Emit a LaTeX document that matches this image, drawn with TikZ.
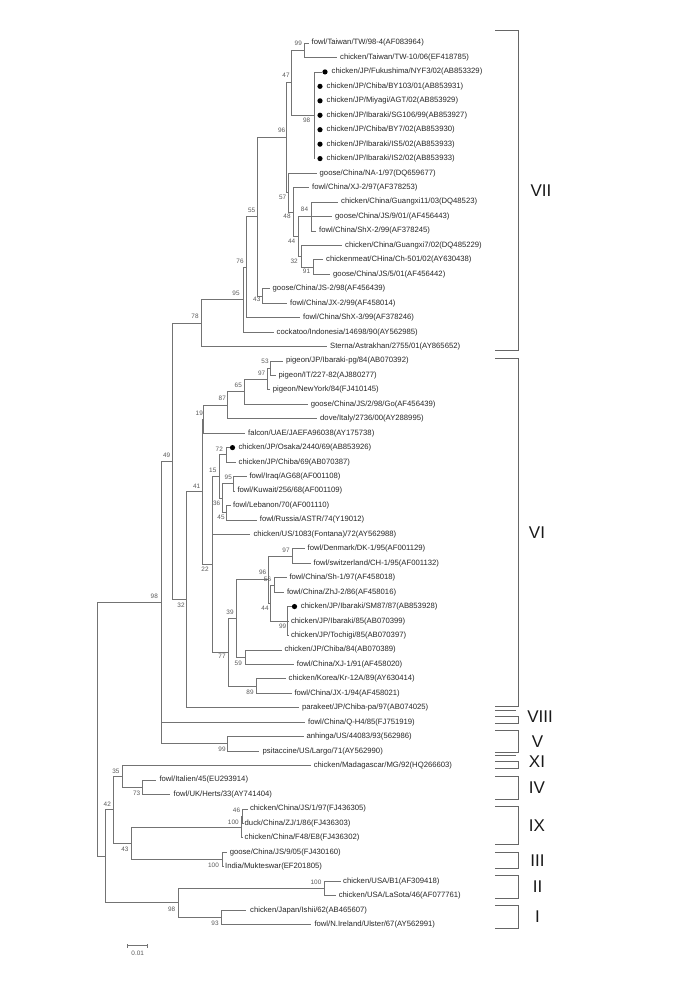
\documentclass[tikz,border=0pt]{standalone}
\usepackage{fontspec}
\setmainfont{Liberation Sans}
\newcommand\leaffont{\fontsize{7.7}{8}\selectfont}
\newcommand\bootfont{\fontsize{6.4}{7}\selectfont}
\newcommand\cladefont{\fontsize{17}{18}\selectfont}
\newcommand\scalefont{\fontsize{6.4}{7}\selectfont}
\tikzset{
  tree/.style={draw=black!55, line width=0.7pt},
  bracketline/.style={draw=black!60, line width=0.8pt},
  leaf/.style={anchor=west, inner sep=0pt, font=\leaffont, text=black!85},
  boot/.style={inner sep=0pt, font=\bootfont, text=black!65},
  clade/.style={inner sep=0pt, font=\cladefont, text=black!90},
  blackdot/.style={circle, fill=black, inner sep=0pt, minimum size=5.2pt},
}
\begin{document}
\begin{tikzpicture}[x=1pt,y=-1pt]
\useasboundingbox (0,0) rectangle (685,989);
% ---------- leaf tips ----------
\coordinate (L1) at (309,43.0);
\coordinate (L2) at (337,57.45);
\coordinate (L3) at (318,71.9);
\coordinate (L4) at (314.5,86.35);
\coordinate (L5) at (314.5,100.8);
\coordinate (L6) at (314.5,115.25);
\coordinate (L7) at (314.5,129.7);
\coordinate (L8) at (314.5,144.15);
\coordinate (L9) at (314.5,158.6);
\coordinate (L10) at (316.7,173.05);
\coordinate (L11) at (309.3,187.5);
\coordinate (L12) at (338,201.95);
\coordinate (L13) at (332,216.4);
\coordinate (L14) at (316,230.85);
\coordinate (L15) at (342,245.3);
\coordinate (L16) at (323,259.75);
\coordinate (L17) at (330,274.2);
\coordinate (L18) at (270,288.65);
\coordinate (L19) at (287,303.1);
\coordinate (L20) at (300,317.55);
\coordinate (L21) at (274,332.0);
\coordinate (L22) at (327,346.45);
\coordinate (L23) at (283.3,360.9);
\coordinate (L24) at (276,375.35);
\coordinate (L25) at (270,389.8);
\coordinate (L26) at (308,404.25);
\coordinate (L27) at (317,418.7);
\coordinate (L28) at (245,433.15);
\coordinate (L29) at (228.5,447.6);
\coordinate (L30) at (236,462.05);
\coordinate (L31) at (246.7,476.5);
\coordinate (L32) at (234.5,490.95);
\coordinate (L33) at (230.7,505.4);
\coordinate (L34) at (256.7,519.85);
\coordinate (L35) at (250,534.3);
\coordinate (L36) at (305,548.75);
\coordinate (L37) at (311,563.2);
\coordinate (L38) at (286.7,577.65);
\coordinate (L39) at (284.3,592.1);
\coordinate (L40) at (289.5,606.55);
\coordinate (L41) at (288.5,621.0);
\coordinate (L42) at (288.5,635.45);
\coordinate (L43) at (281.7,649.9);
\coordinate (L44) at (294,664.35);
\coordinate (L45) at (286,678.8);
\coordinate (L46) at (291.7,693.25);
\coordinate (L47) at (299.3,707.7);
\coordinate (L48) at (305.4,722.15);
\coordinate (L49) at (303.6,736.6);
\coordinate (L50) at (259,751.05);
\coordinate (L51) at (310.7,765.5);
\coordinate (L52) at (156,779.95);
\coordinate (L53) at (170,794.4);
\coordinate (L54) at (247.5,808.85);
\coordinate (L55) at (243,823.3);
\coordinate (L56) at (243,837.75);
\coordinate (L57) at (226.8,852.2);
\coordinate (L58) at (223.5,866.65);
\coordinate (L59) at (341,881.1);
\coordinate (L60) at (335.7,895.55);
\coordinate (L61) at (246.4,910.0);
\coordinate (L62) at (311.4,924.45);
% ---------- internal nodes ----------
\coordinate (n99t) at (304,50.2);
\coordinate (n98j) at (314.5,115.25);
\coordinate (n47) at (291,82.7);
\coordinate (n91) at (313.3,267.0);
\coordinate (n32v) at (301,256.15);
\coordinate (n84) at (311,216.4);
\coordinate (n44) at (298.3,236.3);
\coordinate (n48) at (293.3,211.9);
\coordinate (n57) at (288.3,192.5);
\coordinate (n96) at (286.5,137.6);
\coordinate (n43v) at (262.7,295.9);
\coordinate (n55) at (257.3,216.75);
\coordinate (n76) at (246.7,267.15);
\coordinate (n95) at (243.3,299.6);
\coordinate (n78) at (201,323.0);
\coordinate (n53) at (270.7,368.1);
\coordinate (n97p) at (267.3,378.95);
\coordinate (n65) at (244.3,391.6);
\coordinate (n87) at (227.7,405.15);
\coordinate (n19) at (203.5,419.15);
\coordinate (n72) at (226.7,454.8);
\coordinate (n95b) at (233.3,483.7);
\coordinate (n45) at (226,512.6);
\coordinate (n36) at (222.7,498.15);
\coordinate (n15) at (219,476.5);
\coordinate (n97d) at (292.7,555.95);
\coordinate (n56) at (274,584.9);
\coordinate (n99b) at (287.3,621.0);
\coordinate (n44b) at (270.5,602.95);
\coordinate (n96c) at (268.3,579.45);
\coordinate (n59) at (245,657.1);
\coordinate (n39) at (236,618.3);
\coordinate (n89) at (256,686.0);
\coordinate (n77) at (228.3,652.15);
\coordinate (n22) at (212.3,564.3);
\coordinate (n41) at (202.7,491.7);
\coordinate (n32) at (186.7,599.7);
\coordinate (n49) at (172.3,461.35);
\coordinate (n99v) at (227.8,743.8);
\coordinate (n98top) at (161,602.6);
\coordinate (n73) at (142.5,787.2);
\coordinate (n35) at (122.7,776.35);
\coordinate (n46) at (242.5,816.1);
\coordinate (n100a) at (241.3,826.9);
\coordinate (n100b) at (222.3,859.4);
\coordinate (n43) at (131,843.15);
\coordinate (n42) at (113.3,809.75);
\coordinate (n100c) at (324.3,888.3);
\coordinate (n93) at (221.6,917.2);
\coordinate (n98bot) at (178.3,902.75);
\coordinate (n105) at (105,856.25);
\coordinate (root) at (97.3,729.4);
% ---------- branches ----------
\foreach \p/\c in {n99t/L1,n99t/L2,n98j/L3,n98j/L4,n98j/L5,n98j/L6,n98j/L7,n98j/L8,n98j/L9,
  n47/n99t,n47/n98j,n91/L16,n91/L17,n32v/L15,n32v/n91,n84/L12,n84/L13,n84/L14,
  n44/n84,n44/n32v,n48/L11,n48/n44,n57/L10,n57/n48,n96/n47,n96/n57,n43v/L18,n43v/L19,
  n55/n96,n55/n43v,n76/n55,n76/L20,n95/n76,n95/L21,n78/n95,n78/L22,
  n53/L23,n53/L24,n97p/n53,n97p/L25,n65/n97p,n65/L26,n87/n65,n87/L27,n19/n87,n19/L28,
  n72/L29,n72/L30,n95b/L31,n95b/L32,n45/L33,n45/L34,n36/n95b,n36/n45,n15/n72,n15/n36,
  n97d/L36,n97d/L37,n56/L38,n56/L39,n99b/L40,n99b/L41,n99b/L42,n44b/n56,n44b/n99b,
  n96c/n97d,n96c/n44b,n59/L43,n59/L44,n39/n96c,n39/n59,n89/L45,n89/L46,n77/n39,n77/n89,
  n22/n15,n22/L35,n22/n77,n41/n19,n41/n22,n32/n41,n32/L47,n49/n78,n49/n32,
  n99v/L49,n99v/L50,n98top/n49,n98top/L48,n98top/n99v,
  n73/L52,n73/L53,n35/L51,n35/n73,n46/L54,n46/L55,n100a/n46,n100a/L56,
  n100b/L57,n100b/L58,n43/n100a,n43/n100b,n42/n35,n42/n43,
  n100c/L59,n100c/L60,n93/L61,n93/L62,n98bot/n100c,n98bot/n93,
  n105/n42,n105/n98bot,root/n98top,root/n105}
  {\draw[tree] (\p) |- (\c);}
% ---------- dots ----------
\node[blackdot] (d3) at (325,71.9) {};
\node[blackdot] (d4) at (320,86.35) {};
\node[blackdot] (d5) at (320,100.8) {};
\node[blackdot] (d6) at (320,115.25) {};
\node[blackdot] (d7) at (320,129.7) {};
\node[blackdot] (d8) at (320,144.15) {};
\node[blackdot] (d9) at (320,158.6) {};
\node[blackdot] (d29) at (232.5,447.6) {};
\node[blackdot] (d40) at (294.5,606.55) {};
\draw[tree] (L3) -- (d3.west);
\draw[tree] (L29) -- (d29.west);
\draw[tree] (L40) -- (d40.west);
% ---------- leaf labels ----------
\node[leaf] (t1) at (311.5,43.0) {fowl/Taiwan/TW/98-4(AF083964)};
\node[leaf] (t2) at (340,57.45) {chicken/Taiwan/TW-10/06(EF418785)};
\node[leaf] (t3) at (331.5,71.9) {chicken/JP/Fukushima/NYF3/02(AB853329)};
\node[leaf] (t4) at (326.5,86.35) {chicken/JP/Chiba/BY103/01(AB853931)};
\node[leaf] (t5) at (326.5,100.8) {chicken/JP/Miyagi/AGT/02(AB853929)};
\node[leaf] (t6) at (326.5,115.25) {chicken/JP/Ibaraki/SG106/99(AB853927)};
\node[leaf] (t7) at (326.5,129.7) {chicken/JP/Chiba/BY7/02(AB853930)};
\node[leaf] (t8) at (326.5,144.15) {chicken/JP/Ibaraki/IS5/02(AB853933)};
\node[leaf] (t9) at (326.5,158.6) {chicken/JP/Ibaraki/IS2/02(AB853933)};
\node[leaf] (t10) at (319.5,173.05) {goose/China/NA-1/97(DQ659677)};
\node[leaf] (t11) at (312,187.5) {fowl/China/XJ-2/97(AF378253)};
\node[leaf] (t12) at (341,201.95) {chicken/China/Guangxi11/03(DQ48523)};
\node[leaf] (t13) at (335,216.4) {goose/China/JS/9/01/(AF456443)};
\node[leaf] (t14) at (319,230.85) {fowl/China/ShX-2/99(AF378245)};
\node[leaf] (t15) at (345,245.3) {chicken/China/Guangxi7/02(DQ485229)};
\node[leaf] (t16) at (326,259.75) {chickenmeat/CHina/Ch-501/02(AY630438)};
\node[leaf] (t17) at (333,274.2) {goose/China/JS/5/01(AF456442)};
\node[leaf] (t18) at (272.5,288.65) {goose/China/JS-2/98(AF456439)};
\node[leaf] (t19) at (290,303.1) {fowl/China/JX-2/99(AF458014)};
\node[leaf] (t20) at (303,317.55) {fowl/China/ShX-3/99(AF378246)};
\node[leaf] (t21) at (276.5,332.0) {cockatoo/Indonesia/14698/90(AY562985)};
\node[leaf] (t22) at (330,346.45) {Sterna/Astrakhan/2755/01(AY865652)};
\node[leaf] (t23) at (286,360.9) {pigeon/JP/Ibaraki-pg/84(AB070392)};
\node[leaf] (t24) at (278.5,375.35) {pigeon/IT/227-82(AJ880277)};
\node[leaf] (t25) at (272.7,389.8) {pigeon/NewYork/84(FJ410145)};
\node[leaf] (t26) at (310.7,404.25) {goose/China/JS/2/98/Go(AF456439)};
\node[leaf] (t27) at (320,418.7) {dove/Italy/2736/00(AY288995)};
\node[leaf] (t28) at (248,433.15) {falcon/UAE/JAEFA96038(AY175738)};
\node[leaf] (t29) at (238.3,447.6) {chicken/JP/Osaka/2440/69(AB853926)};
\node[leaf] (t30) at (238.5,462.05) {chicken/JP/Chiba/69(AB070387)};
\node[leaf] (t31) at (249.3,476.5) {fowl/Iraq/AG68(AF001108)};
\node[leaf] (t32) at (237.3,490.95) {fowl/Kuwait/256/68(AF001109)};
\node[leaf] (t33) at (233,505.4) {fowl/Lebanon/70(AF001110)};
\node[leaf] (t34) at (259.7,519.85) {fowl/Russia/ASTR/74(Y19012)};
\node[leaf] (t35) at (253.3,534.3) {chicken/US/1083(Fontana)/72(AY562988)};
\node[leaf] (t36) at (307.5,548.75) {fowl/Denmark/DK-1/95(AF001129)};
\node[leaf] (t37) at (313.5,563.2) {fowl/switzerland/CH-1/95(AF001132)};
\node[leaf] (t38) at (289.3,577.65) {fowl/China/Sh-1/97(AF458018)};
\node[leaf] (t39) at (286.8,592.1) {fowl/China/ZhJ-2/86(AF458016)};
\node[leaf] (t40) at (300.7,606.55) {chicken/JP/Ibaraki/SM87/87(AB853928)};
\node[leaf] (t41) at (290.8,621.0) {chicken/JP/Ibaraki/85(AB070399)};
\node[leaf] (t42) at (290.8,635.45) {chicken/JP/Tochigi/85(AB070397)};
\node[leaf] (t43) at (284.3,649.9) {chicken/JP/Chiba/84(AB070389)};
\node[leaf] (t44) at (296.7,664.35) {fowl/China/XJ-1/91(AF458020)};
\node[leaf] (t45) at (288.5,678.8) {chicken/Korea/Kr-12A/89(AY630414)};
\node[leaf] (t46) at (294.3,693.25) {fowl/China/JX-1/94(AF458021)};
\node[leaf] (t47) at (301.8,707.7) {parakeet/JP/Chiba-pa/97(AB074025)};
\node[leaf] (t48) at (308,722.15) {fowl/China/Q-H4/85(FJ751919)};
\node[leaf] (t49) at (306.3,736.6) {anhinga/US/44083/93(562986)};
\node[leaf] (t50) at (262.5,751.05) {psitaccine/US/Largo/71(AY562990)};
\node[leaf] (t51) at (313.6,765.5) {chicken/Madagascar/MG/92(HQ266603)};
\node[leaf] (t52) at (159.3,779.95) {fowl/Italien/45(EU293914)};
\node[leaf] (t53) at (173.5,794.4) {fowl/UK/Herts/33(AY741404)};
\node[leaf] (t54) at (249.8,808.85) {chicken/China/JS/1/97(FJ436305)};
\node[leaf] (t55) at (244.5,823.3) {duck/China/ZJ/1/86(FJ436303)};
\node[leaf] (t56) at (244.5,837.75) {chicken/China/F48/E8(FJ436302)};
\node[leaf] (t57) at (229.6,852.2) {goose/China/JS/9/05(FJ430160)};
\node[leaf] (t58) at (225,866.65) {India/Mukteswar(EF201805)};
\node[leaf] (t59) at (343,881.1) {chicken/USA/B1(AF309418)};
\node[leaf] (t60) at (338.6,895.55) {chicken/USA/LaSota/46(AF077761)};
\node[leaf] (t61) at (250,910.0) {chicken/Japan/Ishii/62(AB465607)};
\node[leaf] (t62) at (314.3,924.45) {fowl/N.Ireland/Ulster/67(AY562991)};
% ---------- bootstrap values ----------
\node[boot] (b99t) at (298.3,43.2) {99};
\node[boot] (b98j) at (306.7,120) {98};
\node[boot] (b47) at (286,75) {47};
\node[boot] (b96) at (281.7,130) {96};
\node[boot] (b57) at (282.7,197) {57};
\node[boot] (b48) at (287,216.5) {48};
\node[boot] (b84) at (304.5,209.5) {84};
\node[boot] (b44) at (291.7,241) {44};
\node[boot] (b32v) at (294.2,261) {32};
\node[boot] (b91) at (306.5,271.5) {91};
\node[boot] (b55) at (251.7,210) {55};
\node[boot] (b43v) at (256.8,299.5) {43};
\node[boot] (b76) at (240,261) {76};
\node[boot] (b95) at (236,293) {95};
\node[boot] (b78) at (195,316) {78};
\node[boot] (b53) at (265,361) {53};
\node[boot] (b97p) at (261.7,373.3) {97};
\node[boot] (b65) at (238.3,385) {65};
\node[boot] (b87) at (222.3,398.3) {87};
\node[boot] (b19) at (199.3,413.3) {19};
\node[boot] (b72) at (219.3,448.8) {72};
\node[boot] (b15) at (212.8,470.5) {15};
\node[boot] (b95b) at (228.3,477.7) {95};
\node[boot] (b41) at (196.7,486) {41};
\node[boot] (b49) at (166.7,455) {49};
\node[boot] (b36) at (216.7,503.5) {36};
\node[boot] (b45) at (221,517.3) {45};
\node[boot] (b22) at (205,569.3) {22};
\node[boot] (b97d) at (286,550) {97};
\node[boot] (b96c) at (262.7,572.7) {96};
\node[boot] (b56) at (267.5,579.5) {56};
\node[boot] (b44b) at (265,608.3) {44};
\node[boot] (b99b) at (282.7,626.7) {99};
\node[boot] (b39) at (230,612.7) {39};
\node[boot] (b77) at (222,656.7) {77};
\node[boot] (b59) at (238.3,663.3) {59};
\node[boot] (b89) at (250,692.3) {89};
\node[boot] (b32) at (181,605) {32};
\node[boot] (b98top) at (154.3,596.7) {98};
\node[boot] (b99v) at (222,749.3) {99};
\node[boot] (b35) at (116,771) {35};
\node[boot] (b73) at (136.7,793.3) {73};
\node[boot] (b42) at (107.3,804.3) {42};
\node[boot] (b46) at (236.5,810) {46};
\node[boot] (b100a) at (233.3,822) {100};
\node[boot] (b43) at (125,849.3) {43};
\node[boot] (b100b) at (213.5,865) {100};
\node[boot] (b100c) at (316,882) {100};
\node[boot] (b98bot) at (171.7,909.3) {98};
\node[boot] (b93) at (215,923.3) {93};
% ---------- clade brackets ----------
\draw[bracketline] (495,30.5) -- (518,30.5) -- (518,350.7) -- (495,350.7);
\draw[bracketline] (495,358.3) -- (518,358.3) -- (518,706.7) -- (495,706.7);
\draw[bracketline] (495,709.5);
\draw[bracketline] (495,710) -- (516,710);
\draw[bracketline] (495,716.5) -- (518,716.5) -- (518,723.8) -- (495,723.8);
\draw[bracketline] (495,730) -- (518,730) -- (518,752.7) -- (495,752.7);
\draw[bracketline] (495,755.5) -- (516,755.5);
\draw[bracketline] (495,761.5) -- (518,761.5) -- (518,768) -- (495,768);
\draw[bracketline] (495,776) -- (518,776) -- (518,799.3) -- (495,799.3);
\draw[bracketline] (495,806.7) -- (518,806.7) -- (518,844) -- (495,844);
\draw[bracketline] (495,852.3) -- (518,852.3) -- (518,868.3) -- (495,868.3);
\draw[bracketline] (495,875.3) -- (518,875.3) -- (518,898.3) -- (495,898.3);
\draw[bracketline] (495,905.7) -- (518,905.7) -- (518,928.3) -- (495,928.3);
\node[clade] (cVII) at (541,190.5) {VII};
\node[clade] (cVI) at (537,532.5) {VI};
\node[clade] (cVIII) at (540,716.5) {VIII};
\node[clade] (cV) at (537.5,741.4) {V};
\node[clade] (cXI) at (537,761.8) {XI};
\node[clade] (cIV) at (537,787.6) {IV};
\node[clade] (cIX) at (537,825.3) {IX};
\node[clade] (cIII) at (537.5,860.3) {III};
\node[clade] (cII) at (537.5,886.8) {II};
\node[clade] (cI) at (537.5,917) {I};
% ---------- scale bar ----------
\coordinate (sbL) at (127.7,945.7);
\coordinate (sbR) at (147.7,945.7);
\draw[tree, line width=0.6pt] (sbL) -- (sbR);
\draw[tree, line width=0.6pt] ([yshift=-1.8pt]sbL) -- ([yshift=1.8pt]sbL);
\draw[tree, line width=0.6pt] ([yshift=-1.8pt]sbR) -- ([yshift=1.8pt]sbR);
\node[boot] (sbtext) at (137.7,952.8) {0.01};
\end{tikzpicture}
\end{document}
